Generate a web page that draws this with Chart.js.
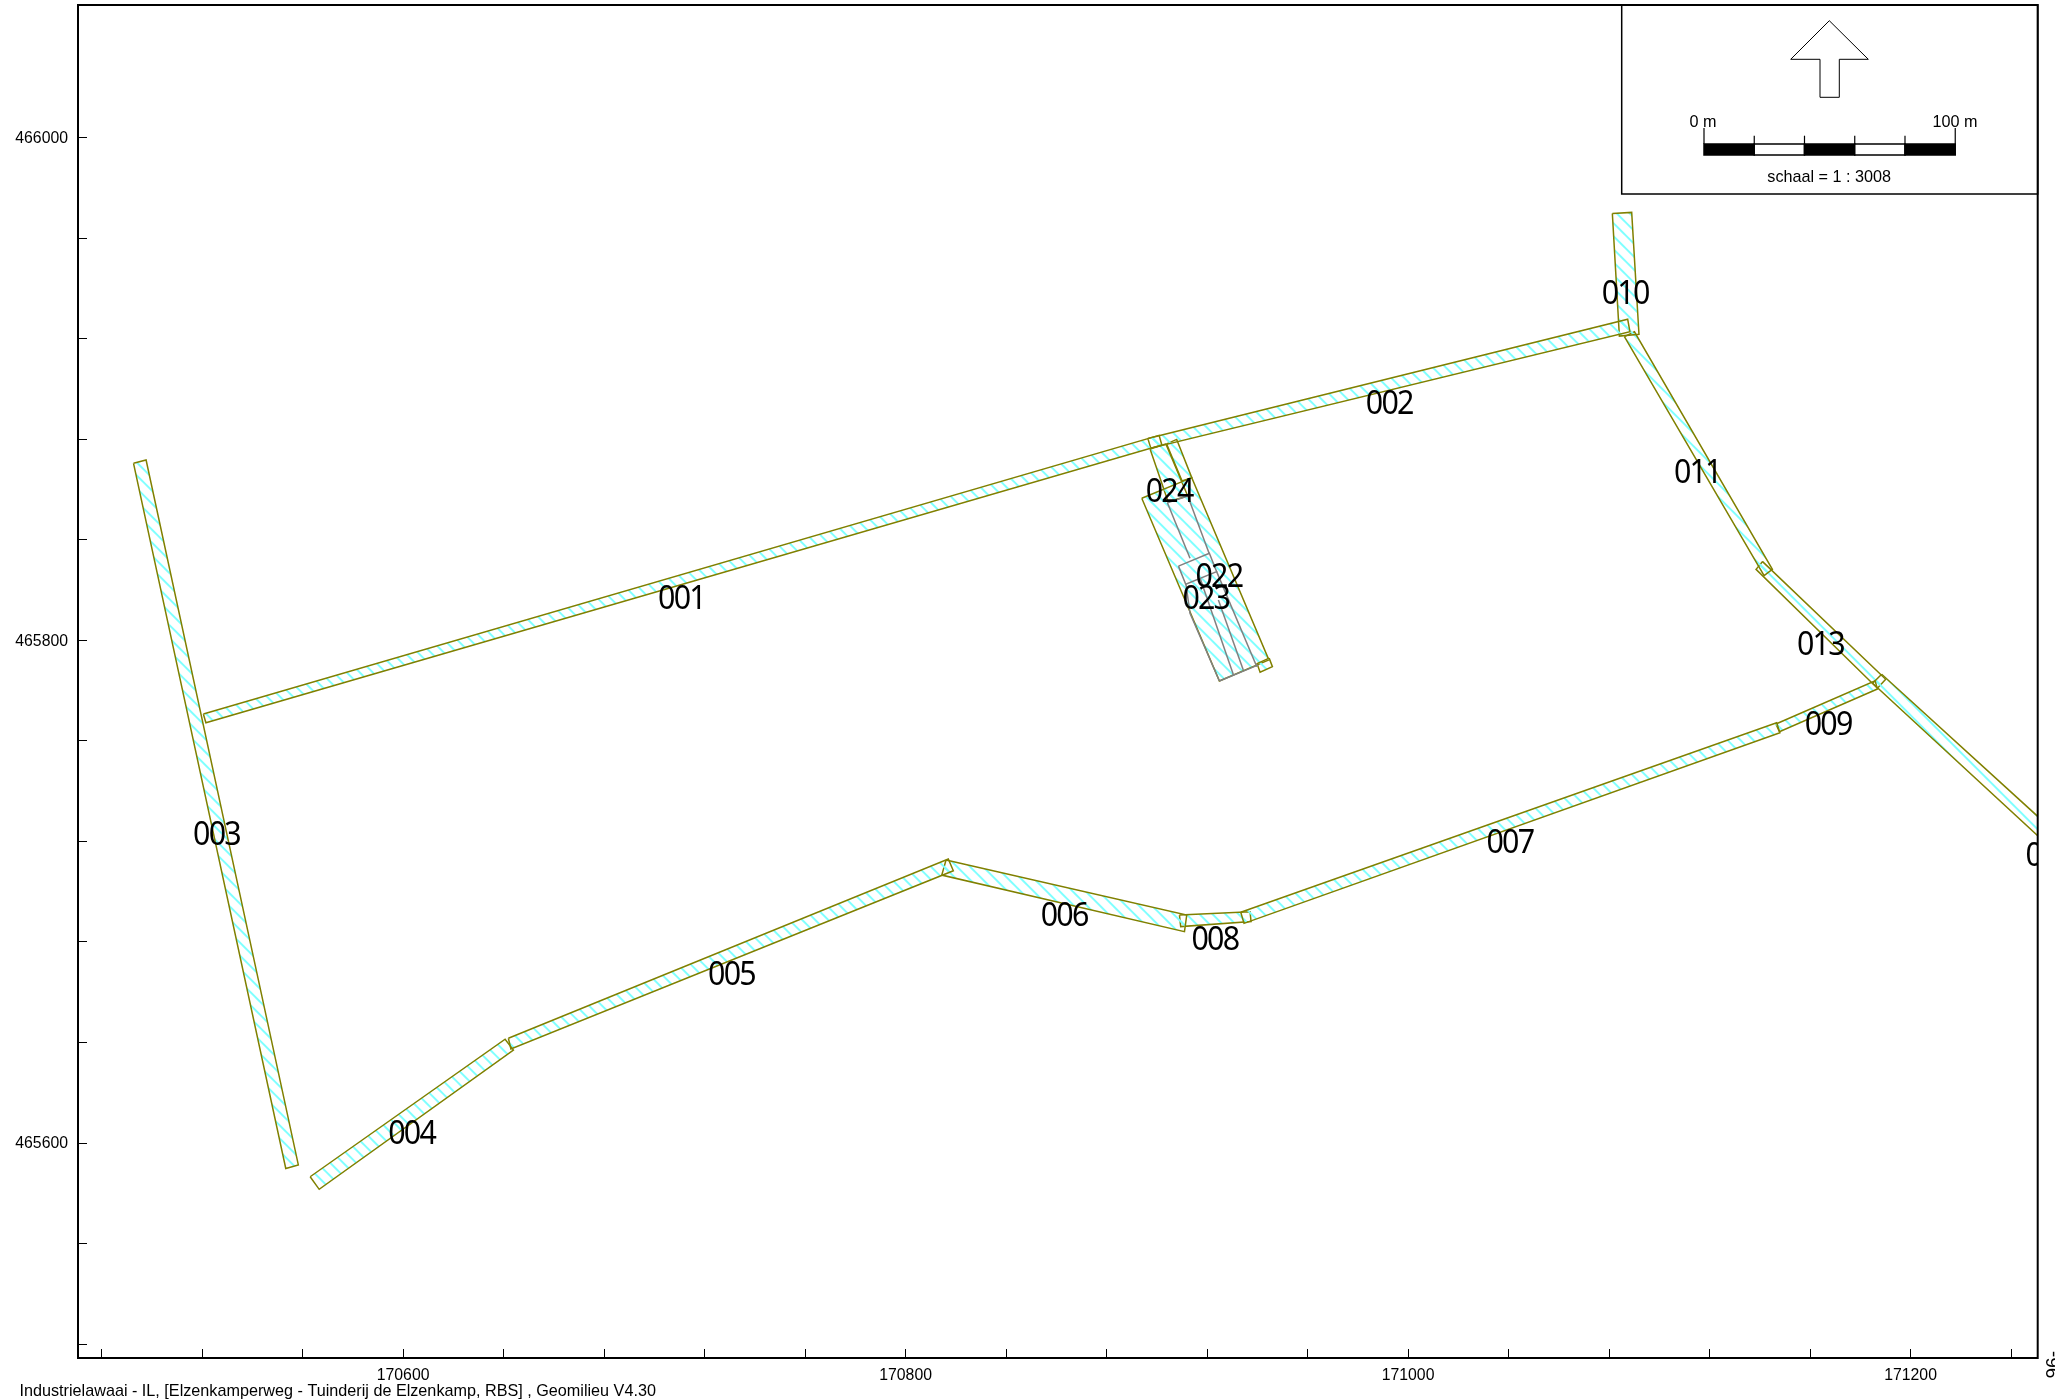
<!DOCTYPE html>
<html><head><meta charset="utf-8">
<style>html,body{margin:0;padding:0;background:#fff;overflow:hidden}canvas{display:block}</style>
<script src="https://cdn.jsdelivr.net/npm/chart.js@4"></script>
</head><body><canvas id="c" width="2055" height="1399"></canvas>
<script>
const xTicks=[170480,170520,170560,170600,170640,170680,170720,170760,170800,170840,170880,170920,170960,171000,171040,171080,171120,171160,171200,171240];
const yTicks=[465520,465560,465600,465640,465680,465720,465760,465800,465840,465880,465920,465960,466000];
const xLabelled=[170600,170800,171000,171200];
const yLabelled=[465600,465800,466000];

const seg001=[[170520.5,465770.7],[170521.5,465767.2],[170902.0,465877.7],[170900.9,465881.5]];
const seg002=[[170896.4,465880.3],[170897.6,465876.4],[171088.3,465922.7],[171087.4,465927.7]];
const seg003=[[170492.7,465870.4],[170497.7,465871.7],[170558.3,465591.3],[170553.3,465589.9]];
const seg004=[[170563.0,465586.6],[170566.6,465581.6],[170643.9,465637.0],[170640.6,465641.3]];
const seg005=[[170641.9,465641.7],[170642.9,465637.4],[170819.0,465708.3],[170817.0,465713.0]];
const seg006=[[170816.1,465712.6],[170814.4,465706.6],[170911.0,465684.1],[170911.9,465690.7]];
const seg007=[[170933.4,465691.8],[170934.7,465687.4],[171148.0,465763.2],[171146.7,465767.2]];
const seg008=[[170909.0,465690.7],[170909.5,465686.1],[170937.5,465688.1],[170937.1,465692.0]];
const seg009=[[171146.4,465766.7],[171147.8,465763.6],[171186.8,465780.6],[171185.9,465783.9]];
const seg010=[[171081.3,465969.8],[171089.0,465970.2],[171091.9,465921.7],[171084.1,465921.0]];
const seg011=[[171086.1,465920.8],[171090.1,465922.7],[171145.0,465828.2],[171141.7,465825.7]];
const seg012=[[171188.5,465786.5],[171270.1,465712.2],[171270.1,465704.2],[171184.9,465782.9]];
const seg013=[[171141.1,465831.3],[171190.1,465784.5],[171186.8,465780.9],[171138.5,465828.2]];
const seg022a=[[170903.9,465878.1],[170907.9,465879.9],[170913.9,465864.7],[170910.0,465863.4]];
const seg022b=[[170944.7,465792.9],[170946.0,465789.5],[170941.1,465787.3],[170939.9,465790.7]];
const seg023=[[170894.0,465856.5],[170913.9,465864.7],[170944.6,465792.2],[170924.9,465783.8]];
const seg024=[[170897.3,465876.1],[170903.6,465878.1],[170912.3,465857.4],[170904.5,465855.1]];
const strips=[seg001,seg002,seg003,seg004,seg005,seg006,seg007,seg008,seg009,seg010,seg011,seg012,seg013,seg022a,seg022b,seg023,seg024];

const grayCap=[[170904.2,465854.7],[170912.3,465857.4]];
const grayA=[[170904.2,465854.7],[170913.2,465832.6]];
const grayB=[[170912.3,465857.4],[170920.8,465834.6]];
const grayBox=[[170908.6,465829.5],[170920.9,465834.6],[170923.8,465827.3],[170911.5,465822.3],[170908.6,465829.5]];
const grayC=[[170911.6,465822.2],[170913.2,465810.7],[170924.9,465783.8]];
const grayD=[[170917.2,465824.8],[170930.5,465786.2]];
const grayE=[[170924.5,465816.0],[170934.4,465788.2]];
const grayF=[[170923.8,465827.3],[170939.8,465789.5]];
const grayBottom=[[170924.9,465783.8],[170940.4,465790.2]];
const grayLines=[grayCap,grayA,grayB,grayBox,grayC,grayD,grayE,grayF,grayBottom];

const labelNames=['001','002','003','004','005','006','007','008','009','010','011','012','013','022','023','024'];
const labelX=[170710.8,170992.5,170525.7,170603.4,170730.7,170863.1,171040.5,170923.1,171167.2,171086.4,171115.1,171255,171164.1,170924.7,170919.5,170904.9];
const labelY=[465817.0,465894.6,465723.1,465604.2,465667.3,465690.8,465720.0,465681.4,465766.9,465938.4,465867.0,465714.8,465798.7,465825.8,465817.0,465859.7];

const footerText='Industrielawaai - IL, [Elzenkamperweg - Tuinderij de Elzenkamp, RBS] , Geomilieu V4.30';
const scaleText='schaal = 1 : 3008';
const sideText='96-';
const barMetres=[0,20,40,60,80,100];

function hatch(){
  const n=13,t=document.createElement('canvas');t.width=n;t.height=n;
  const g=t.getContext('2d');g.strokeStyle='#80ffff';g.lineWidth=2;
  for(const o of [-n,0,n]){g.beginPath();g.moveTo(-0.7+o-5,-5);g.lineTo(-0.7+o+n+5,n+5);g.stroke();}
  return document.getElementById('c').getContext('2d').createPattern(t,'repeat');
}
const pat=hatch();
const pts=a=>a.map(p=>({x:p[0],y:p[1]}));
const datasets=[];
for(const g of grayLines)datasets.push({data:pts(g),showLine:true,fill:false,borderColor:'#808080',borderWidth:1.5,pointRadius:0,tension:0});
for(const s of strips)datasets.push({data:pts(s.concat([s[0]])),showLine:true,fill:'shape',backgroundColor:pat,borderColor:'#808000',borderWidth:1.5,pointRadius:0,tension:0,borderJoinStyle:'miter'});

const decor={id:'decor',afterDatasetsDraw(ch){
  const c=ch.ctx,a=ch.chartArea,xs=ch.scales.x,ys=ch.scales.y;
  c.save();c.beginPath();c.rect(a.left,a.top,a.right-a.left,a.bottom-a.top);c.clip();
  c.fillStyle='#000';c.font='32px "Noto Sans"';c.textAlign='center';c.textBaseline='middle';c.letterSpacing='-1.9px';
  labelNames.forEach((t,i)=>{
    c.save();c.translate(xs.getPixelForValue(labelX[i]),ys.getPixelForValue(labelY[i])+2.5);c.scale(0.95,1);
    c.fillText(t,0,0);c.restore();
  });
  c.restore();
  c.letterSpacing='0px';
  c.save();
  // inset box
  const r=a.right,L=r-416,B=194;
  c.fillStyle='#fff';c.fillRect(L,a.top,r-L,B-a.top);
  c.strokeStyle='#000';c.lineWidth=1.5;c.strokeRect(L,a.top,r-L,B-a.top);
  // north arrow
  c.lineWidth=1;c.beginPath();
  [[1829.3,20.7],[1868.3,59.3],[1839.3,59.3],[1839.3,97.3],[1820,97.3],[1820,59.3],[1790.7,59.3]].forEach((p,i)=>i?c.lineTo(p[0],p[1]):c.moveTo(p[0],p[1]));
  c.closePath();c.stroke();
  // scale bar through the x scale
  const x0=1704,k=xs.getPixelForValue(171001)-xs.getPixelForValue(171000);
  barMetres.slice(0,-1).forEach((m,i)=>{
    const p=x0+m*k,w=(barMetres[i+1]-m)*k;
    c.fillStyle=i%2?'#fff':'#000';c.fillRect(p,144,w,11);
    c.strokeStyle='#000';c.lineWidth=1.5;c.strokeRect(p,144,w,11);
  });
  barMetres.forEach((m,i)=>{
    const p=x0+m*k,top=(i===0||i===barMetres.length-1)?128:135.7;
    c.beginPath();c.moveTo(p,top);c.lineTo(p,144);c.strokeStyle='#000';c.lineWidth=1.2;c.stroke();
  });
  c.fillStyle='#000';c.font='16.2px "Liberation Sans"';c.textBaseline='middle';c.textAlign='center';
  c.fillText('0 m',1703,123);c.fillText('100 m',1955,123);
  c.fillText(scaleText,1829.2,178);
  // frame
  c.strokeStyle='#000';c.lineWidth=2;c.strokeRect(a.left,a.top,a.right-a.left,a.bottom-a.top);
  // footer
  c.fillStyle='#000';c.font='16.2px "Liberation Sans"';c.textAlign='left';c.textBaseline='alphabetic';
  c.fillText(footerText,19.5,1396);
  c.translate(2059,1351);c.rotate(-Math.PI/2);c.textAlign='right';c.font='19px "Liberation Sans"';
  c.fillText(sideText,0,0);
  c.restore();
}};

const tickFont={family:'"Liberation Sans"',size:15.8};
function axis(ticks,labelled,fit,pad,off){return {
  type:'linear',
  afterBuildTicks:s=>{s.ticks=ticks.map(v=>({value:v}));},
  afterFit:fit,
  grid:{drawOnChartArea:false,drawTicks:true,tickLength:-9,tickColor:'#000',tickWidth:1},
  border:{display:false},
  ticks:{autoSkip:false,maxRotation:0,minRotation:0,color:'#000',font:tickFont,padding:pad,labelOffset:off,
    callback:v=>labelled.includes(v)?String(v):''}
};}
new Chart(document.getElementById('c'),{
  type:'scatter',
  data:{datasets},
  options:{responsive:false,animation:false,devicePixelRatio:1,
    layout:{padding:{left:0,right:17.3,top:5,bottom:0}},
    plugins:{legend:{display:false},tooltip:{enabled:false}},
    scales:{
      x:Object.assign(axis(xTicks,xLabelled,s=>{s.height=41;s.paddingLeft=0;s.paddingRight=0;},17,0),{position:'bottom',min:170470.6,max:171250.6}),
      y:Object.assign(axis(yTicks,yLabelled,s=>{s.width=78;s.paddingTop=0;s.paddingBottom=0;},19,1),{position:'left',min:465514.5,max:466052.7})
    }},
  plugins:[decor]
});
</script></body></html>
